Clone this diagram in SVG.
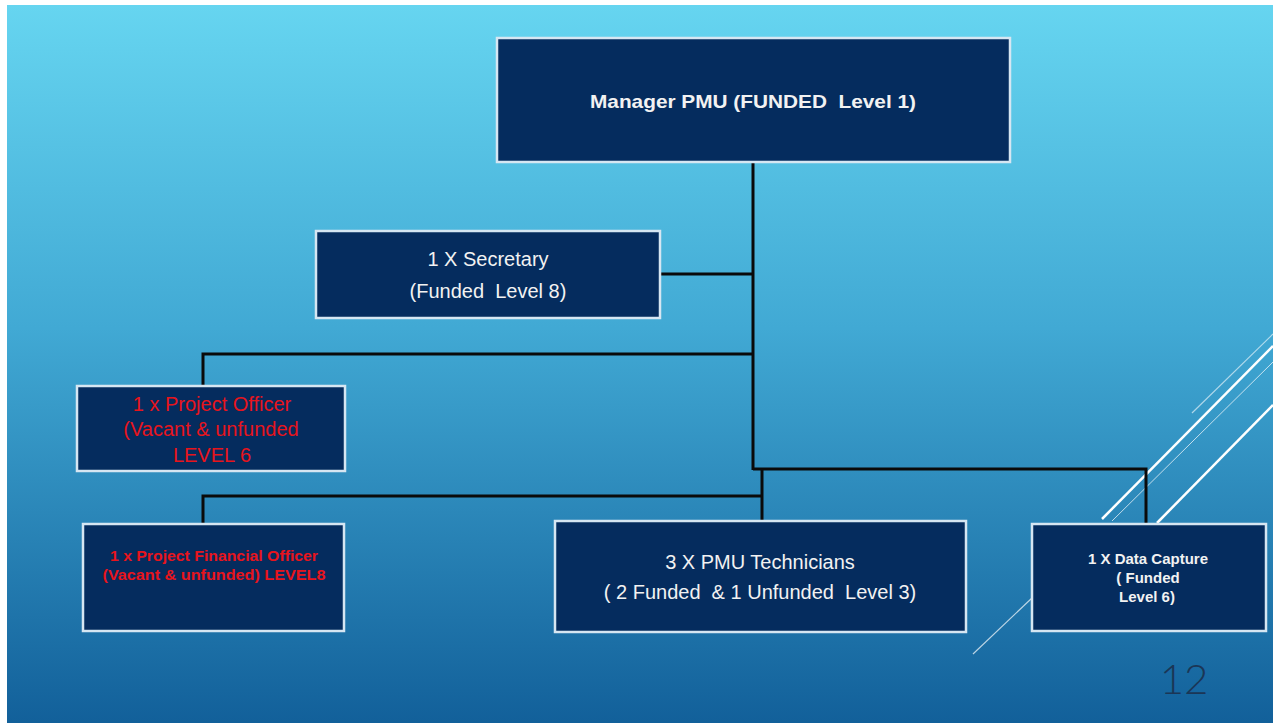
<svg xmlns="http://www.w3.org/2000/svg" width="1273" height="723" viewBox="0 0 1273 723">
<defs>
<linearGradient id="bg" x1="0" y1="0" x2="0" y2="1">
<stop offset="0" stop-color="#66d5f0"/>
<stop offset="0.45" stop-color="#41a9d4"/>
<stop offset="1" stop-color="#12609a"/>
</linearGradient>
</defs>
<style>
.box{fill:#052c5e;stroke:#d6e6f2;stroke-width:2.5}
.t{font-family:"Liberation Sans",Arial,sans-serif;text-anchor:middle;white-space:pre}
.w{fill:#f2f2f2}
.r{fill:#e8141c}
.b{font-weight:bold}
.con{fill:none;stroke:#0a0a0a;stroke-width:3}
.deco{stroke:#ffffff;fill:none}
</style>
<rect x="0" y="0" width="1273" height="723" fill="#ffffff"/>
<rect x="7" y="5" width="1266" height="718" fill="url(#bg)"/>
<g id="decoration">
<line class="deco" x1="1102" y1="519" x2="1273" y2="346" stroke-width="2.5"/>
<line class="deco" x1="1112" y1="521" x2="1273" y2="362" stroke-width="1" opacity="0.7"/>
<line class="deco" x1="1192" y1="413" x2="1273" y2="334" stroke-width="1.2" opacity="0.6"/>
<line class="deco" x1="1157" y1="523" x2="1273" y2="405" stroke-width="2.5"/>
<line class="deco" x1="973" y1="654" x2="1032" y2="598" stroke-width="1.2" opacity="0.7"/>
</g>
<g id="connectors">
<polyline class="con" points="753,162 753,470"/>
<polyline class="con" points="660,274 753,274"/>
<polyline class="con" points="203,385 203,354 753,354"/>
<polyline class="con" points="753,469 1146,469 1146,523"/>
<polyline class="con" points="203,523 203,496 762,496"/>
<polyline class="con" points="762,469 762,521"/>
</g>
<g id="manager">
<rect class="box" x="497" y="38" width="513" height="124"/>
<text class="t w b" x="753" y="108" font-size="19" textLength="326" lengthAdjust="spacingAndGlyphs">Manager PMU (FUNDED  Level 1)</text>
</g>
<g id="secretary">
<rect class="box" x="316" y="231" width="344" height="87"/>
<text class="t w" x="488" y="266" font-size="20">1 X Secretary</text>
<text class="t w" x="488" y="298" font-size="20">(Funded  Level 8)</text>
</g>
<g id="project-officer">
<rect class="box" x="77" y="386" width="268" height="85"/>
<text class="t r" x="212" y="411" font-size="20">1 x Project Officer</text>
<text class="t r" x="211" y="436" font-size="20">(Vacant &amp; unfunded</text>
<text class="t r" x="212" y="462" font-size="20">LEVEL 6</text>
</g>
<g id="project-financial-officer">
<rect class="box" x="83" y="524" width="261" height="107"/>
<text class="t r b" x="214" y="561" font-size="14" textLength="208" lengthAdjust="spacingAndGlyphs">1 x Project Financial Officer</text>
<text class="t r b" x="214" y="580" font-size="14" textLength="223" lengthAdjust="spacingAndGlyphs">(Vacant &amp; unfunded) LEVEL8</text>
</g>
<g id="technicians">
<rect class="box" x="555" y="521" width="411" height="111"/>
<text class="t w" x="760" y="569" font-size="20">3 X PMU Technicians</text>
<text class="t w" x="760" y="599" font-size="20">( 2 Funded  &amp; 1 Unfunded  Level 3)</text>
</g>
<g id="data-capture">
<rect class="box" x="1032" y="524" width="234" height="107"/>
<text class="t w b" x="1148" y="564" font-size="15">1 X Data Capture</text>
<text class="t w b" x="1148" y="583" font-size="15">( Funded</text>
<text class="t w b" x="1147" y="602" font-size="15">Level 6)</text>
</g>
<text x="1184" y="694" font-family="Lato, 'Liberation Sans', sans-serif" font-weight="300" font-size="42" fill="#1b3656" text-anchor="middle">12</text>
</svg>
